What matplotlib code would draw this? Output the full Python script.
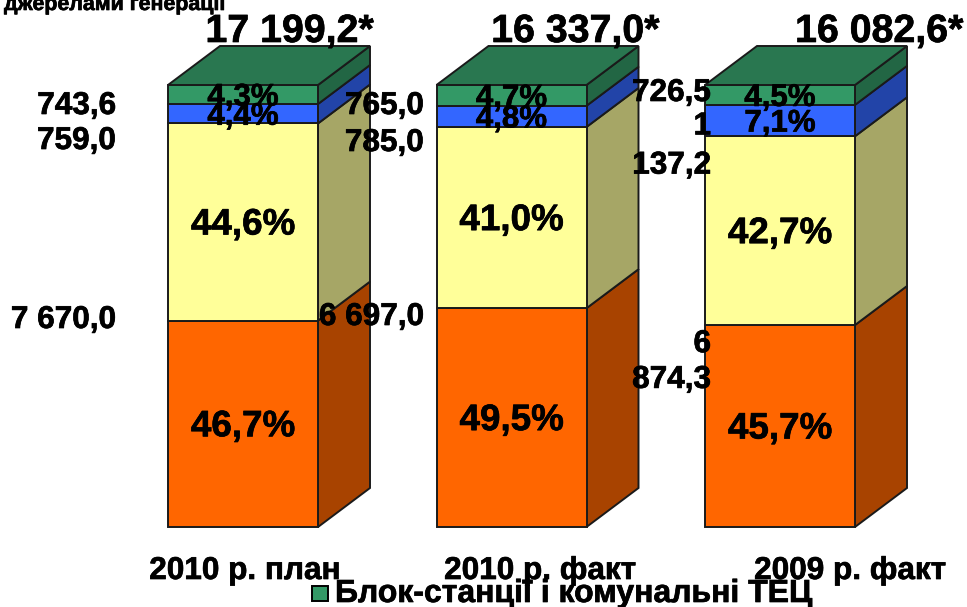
import matplotlib
matplotlib.use("Agg")
import matplotlib.pyplot as plt
import matplotlib.patheffects as pe
from matplotlib.patches import Rectangle
import numpy as np

plt.rcParams['font.family'] = ['Liberation Sans', 'DejaVu Sans']
plt.rcParams['font.weight'] = 'bold'

categories = ["2010 р. план", "2010 р. факт", "2009 р. факт"]
totals = ["17 199,2*", "16 337,0*", "16 082,6*"]

# percent shares, bottom to top
share_big = [46.7, 49.5, 45.7]
share_yellow = [44.6, 41.0, 42.7]
share_blue = [4.4, 4.8, 7.1]
share_green = [4.3, 4.7, 4.5]

front_colors = ["#FF6600", "#FFFF99", "#3366FF", "#339966"]
side_colors = ["#A84300", "#A6A666", "#2244A8", "#226644"]
top_color = "#297750"
edge = "#1a1a1a"

W, H = 967, 607
fig = plt.figure(figsize=(W / 100, H / 100), dpi=100)
ax = fig.add_axes([0, 0, 1, 1])
ax.axis("off")

# front faces: 0% at y=527px, 100% at y=85px; bars 268.5px apart
per_px_y = 100 / 442
per_px_x = 1 / 268.5
ax.set_ylim(-(H - 527) * per_px_y, 527 * per_px_y)
ax.set_xlim(-243 * per_px_x, (W - 243) * per_px_x)

bar_w = 150 * per_px_x
dx = 52 * per_px_x
dy = 39 * per_px_y

x = np.arange(len(categories))
bottom = np.zeros(len(categories))
for vals, fc, sc in zip([share_big, share_yellow, share_blue, share_green], front_colors, side_colors):
    vals = np.array(vals)
    ax.bar(x, vals, bar_w, bottom=bottom, color=fc, edgecolor=edge, linewidth=1.4, zorder=3)
    for xi, b, v in zip(x, bottom, vals):
        r = xi + bar_w / 2
        ax.fill([r, r + dx, r + dx, r], [b, b + dy, b + v + dy, b + v],
                facecolor=sc, edgecolor=edge, linewidth=1.4, zorder=2)
    bottom = bottom + vals
for xi, t in zip(x, bottom):
    l, r = xi - bar_w / 2, xi + bar_w / 2
    ax.fill([l, r, r + dx, l + dx], [t, t, t + dy, t + dy],
            facecolor=top_color, edgecolor=edge, linewidth=1.4, zorder=4)

# source text is a bit heavier than plain bold
heavy = [pe.withStroke(linewidth=0.5, foreground="black")]


def px(x_px, y_px, s, size, ha="center", va="center", **kw):
    return fig.text(x_px / W, 1 - y_px / H, s, fontsize=size, ha=ha, va=va, zorder=10,
                    path_effects=heavy, **kw)


# percent labels inside the bars
big_size = 26.5
small_size = 22.5
bottom = np.zeros(len(categories))
for vals, size in zip([share_big, share_yellow, share_blue, share_green],
                      [big_size, big_size, small_size, small_size]):
    for xi, b, v in zip(x, bottom, vals):
        ax.text(xi, b + v / 2 - 3 * per_px_y, f"{v:.1f}%".replace(".", ","), fontsize=size,
                ha="center", va="center", zorder=10, path_effects=heavy)
    bottom = bottom + np.array(vals)

# totals above bars
for cx, s in zip([289.5, 575, 879], totals):
    px(cx, 32, s, 28.3)

# side labels (third column wraps like the source)
side = 22.7
px(116, 106, "743,6", side, ha="right")
px(116, 141, "759,0", side, ha="right")
px(116, 320, "7 670,0", side, ha="right")
px(424, 106, "765,0", side, ha="right")
px(424, 143, "785,0", side, ha="right")
px(424, 317, "6 697,0", side, ha="right")
px(711, 93, "726,5", side, ha="right")
px(711, 146, "1\n137,2", side, ha="right", linespacing=1.4)
px(711, 362, "6\n874,3", side, ha="right", linespacing=1.25)

# category labels
for cx, s in zip([245, 540, 850], categories):
    px(cx, 571, s, 22.7)

# legend entry, cut off by the bottom edge in the source
fig.add_artist(Rectangle((312 / W, 1 - 601 / H), 16 / W, 15 / H, transform=fig.transFigure,
                         facecolor="#339966", edgecolor="black", linewidth=1.4))
px(335, 594, "Блок-станції і комунальні ТЕЦ", 23, ha="left")

# chart title, clipped at the top edge
px(4, 10, "джерелами генерації", 15.4, ha="left", va="baseline")

fig.savefig("out.png", dpi=100)
